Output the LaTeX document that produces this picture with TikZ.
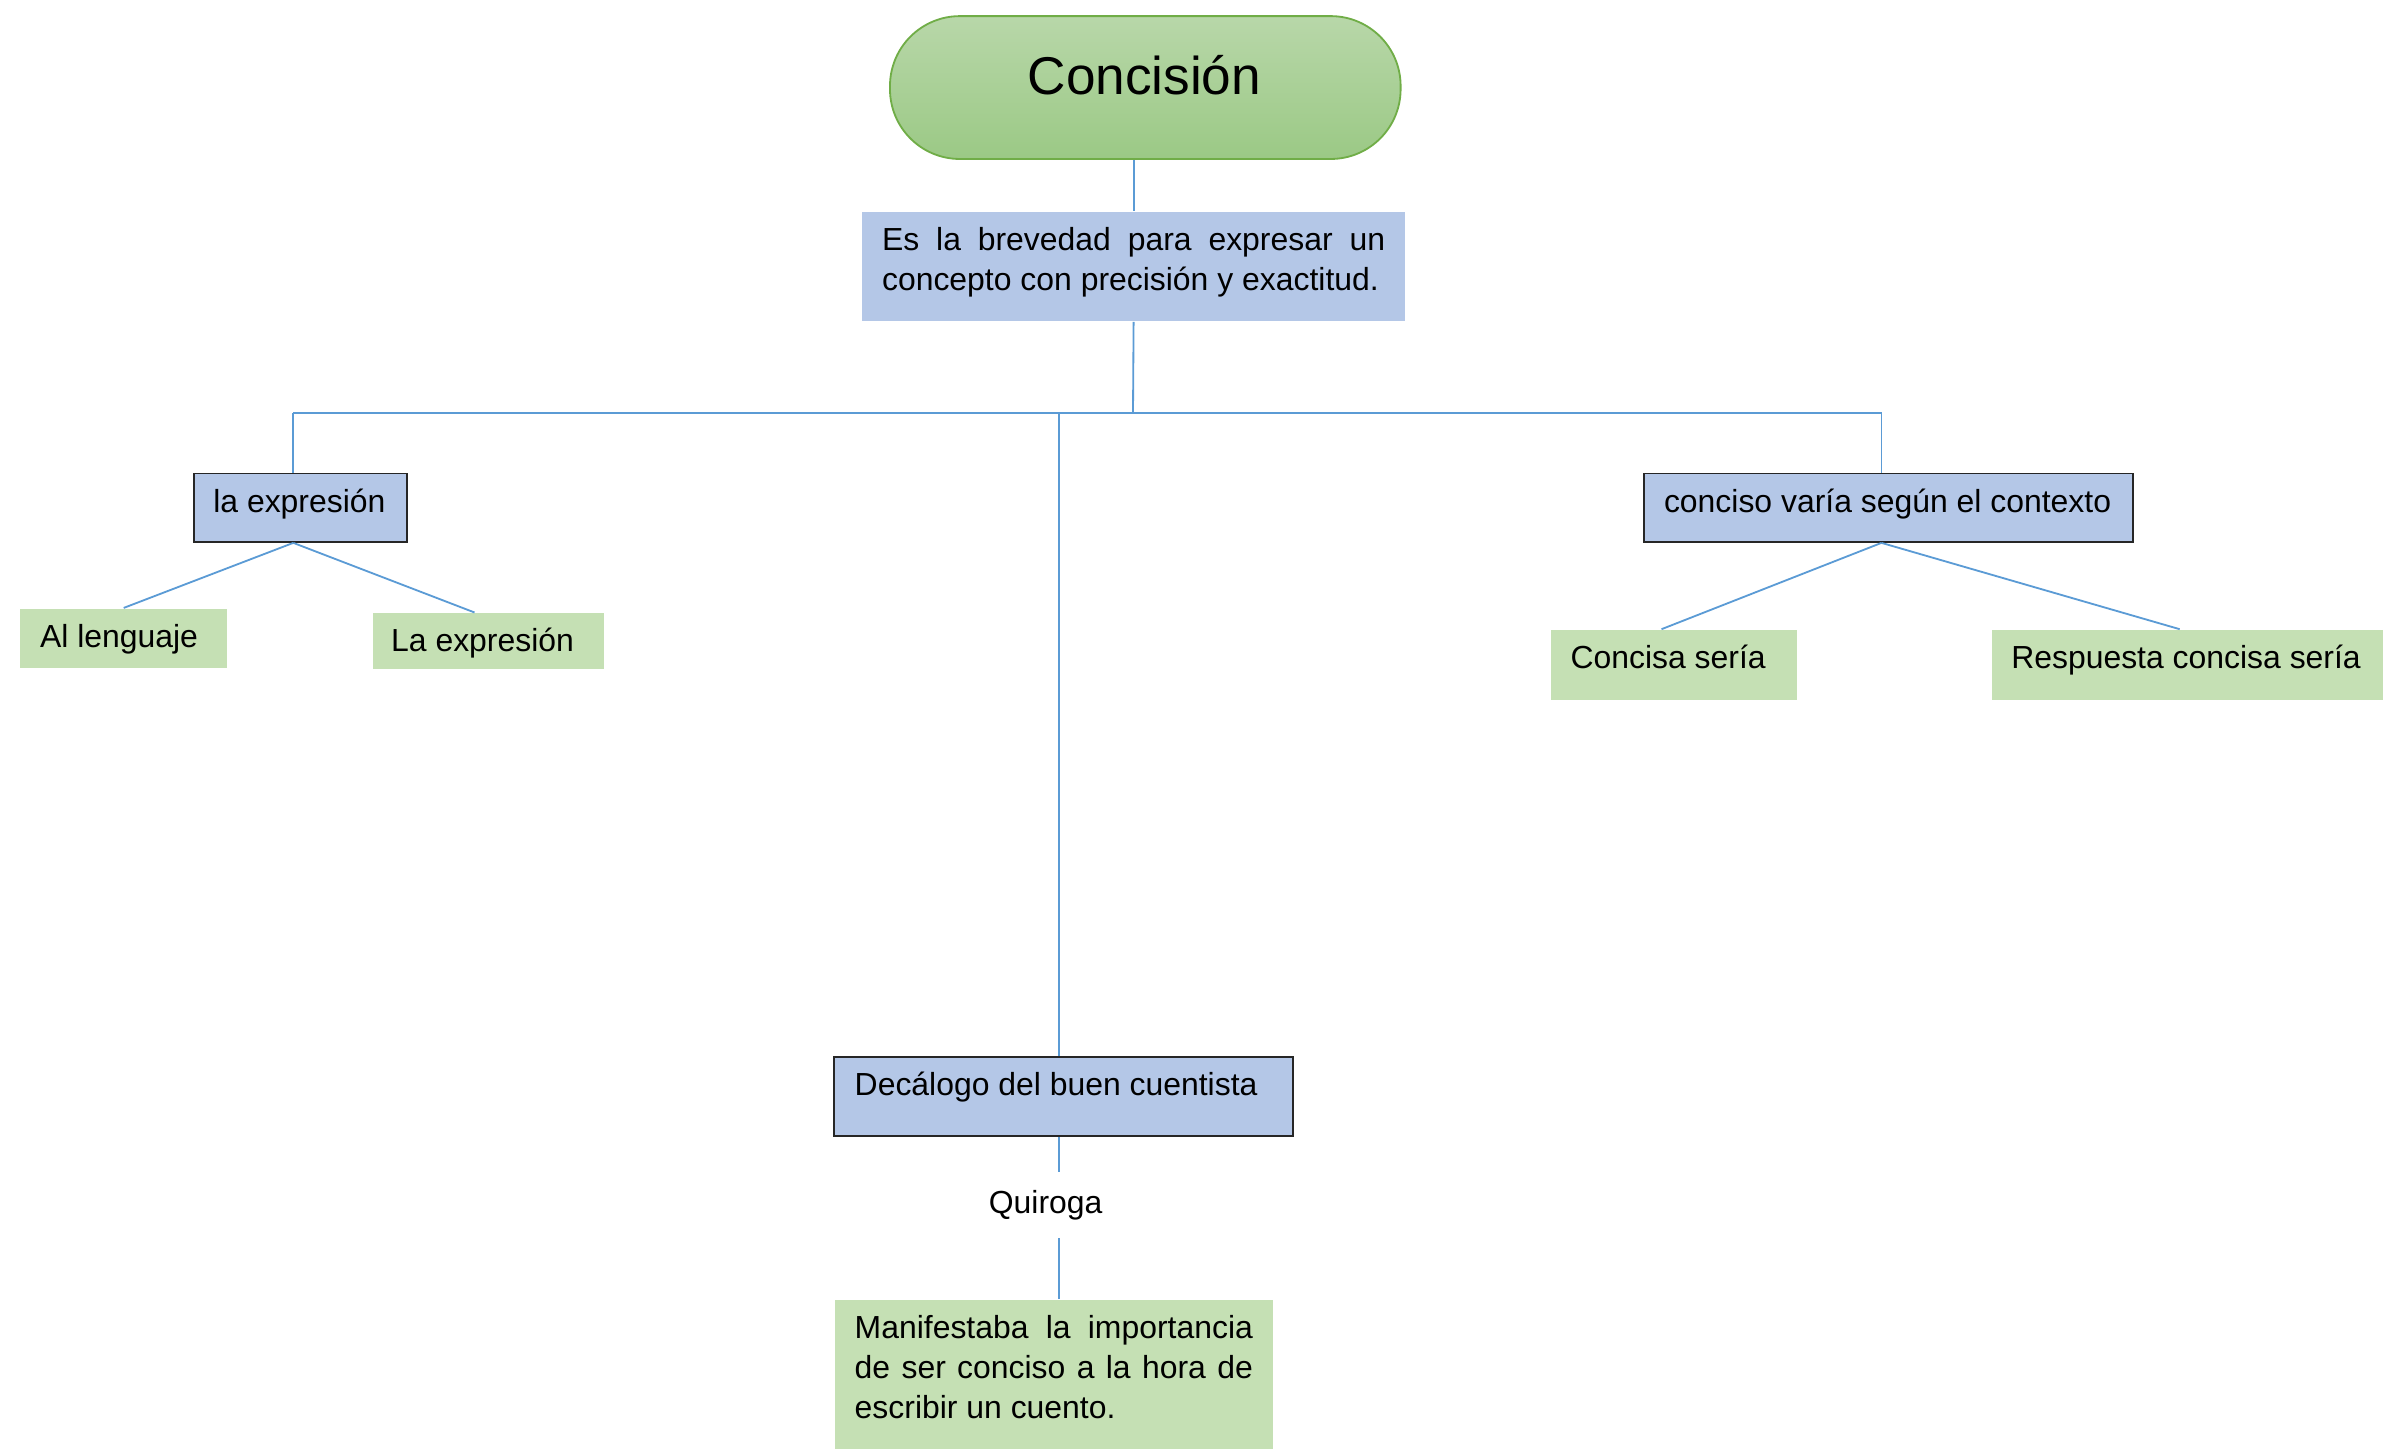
\documentclass[tikz,border=0pt]{standalone}
\usepackage{fontspec}
\setmainfont{Liberation Sans}
\usetikzlibrary{calc}
\definecolor{connc}{HTML}{5B9BD5}
\definecolor{boxblue}{HTML}{B4C7E7}
\definecolor{boxgreen}{HTML}{C5E0B4}
\definecolor{pilltop}{HTML}{B8D7A9}
\definecolor{pillbot}{HTML}{9BC985}
\definecolor{pillborder}{HTML}{70AD47}
\tikzset{
  conn/.style={draw=connc, line width=0.6pt},
  bluebox/.style={draw=black!85, line width=0.6pt, fill=boxblue, inner sep=0pt, anchor=north west},
  plainblue/.style={fill=boxblue, inner sep=0pt, anchor=north west},
  greenbox/.style={fill=boxgreen, inner sep=0pt, anchor=north west},
  txt/.style={inner sep=0pt, font=\fontsize{10.5}{13.2}\selectfont},
}
\begin{document}
\begin{tikzpicture}[x=0.5pt,y=-0.5pt]
\useasboundingbox (0,0) rectangle (1568,954);
% boxes
\node[draw=pillborder, line width=0.6pt, top color=pilltop, bottom color=pillbot,
      rounded corners=23pt, minimum width=168pt, minimum height=47pt,
      inner sep=0pt, anchor=north west] (pill) at (585,10) {};
\node[plainblue, minimum width=178.5pt, minimum height=36pt] (b1) at (567,139) {};
\node[bluebox, minimum width=70pt, minimum height=22.5pt] (lex) at (127,311) {};
\node[greenbox, minimum width=68pt, minimum height=19.5pt] (al) at (13,400) {};
\node[greenbox, minimum width=76pt, minimum height=18.5pt] (la) at (245,403) {};
\node[bluebox, minimum width=161pt, minimum height=22.5pt] (cv) at (1081,311) {};
\node[greenbox, minimum width=81pt, minimum height=23pt] (cs) at (1020,414) {};
\node[greenbox, minimum width=129pt, minimum height=23pt] (rc) at (1310,414) {};
\node[bluebox, minimum width=151pt, minimum height=26pt] (dec) at (548,695) {};
\node[greenbox, minimum width=144pt, minimum height=49pt] (man) at (549,855) {};
% texts
\node[txt, anchor=base, font=\fontsize{17.5}{21}\selectfont] (tconc) at (753,62) {Concisión};
\node[txt, anchor=base west, text width=165.5pt, align=justify] (t1) at (580,165)
  {\tolerance=10000\hyphenpenalty=10000 Es la brevedad para expresar un concepto con precisión y exactitud.};
\node[txt, anchor=base] (tlex) at (197,337) {la expresión};
\node[txt, anchor=base west] (tal) at (26,426) {Al lenguaje};
\node[txt, anchor=base west] (tla) at (257,429) {La expresión};
\node[txt, anchor=base] (tcv) at (1242,337) {conciso varía según el contexto};
\node[txt, anchor=base west] (tcs) at (1033,440) {Concisa sería};
\node[txt, anchor=base west] (trc) at (1323,440) {Respuesta concisa sería};
\node[txt, anchor=base west] (tdec) at (562,721) {Decálogo del buen cuentista};
\node[txt, minimum height=21.5pt] (quiroga) at (688,793) {Quiroga};
\node[txt, anchor=base west, text width=131pt, align=justify] (tman) at (562,880.5)
  {\tolerance=10000\hyphenpenalty=10000 Manifestaba la importancia de ser conciso a la hora de escribir un cuento.};
% connectors
\coordinate (hl) at (193,272);
\coordinate (hr) at (1238,272);
\coordinate (hm) at (745.5,272);
\coordinate (trunk) at (697,272);
\draw[conn] (pill.south -| b1.north) -- (b1.north);
\draw[conn] (b1.south) -- (hm);
\draw[conn] (hl) -- (hr);
\draw[conn] (hl) -- (hl |- lex.north);
\draw[conn] (hr) -- (hr |- cv.north);
\draw[conn] (trunk) -- (trunk |- dec.north);
\coordinate (lexb) at (lex.south -| hl);
\draw[conn] (lexb) -- (al.north);
\draw[conn] (lexb) -- ($(la.north west)!0.44!(la.north east)$);
\coordinate (cvb) at (cv.south -| hr);
\draw[conn] (cvb) -- ($(cs.north west)!0.45!(cs.north east)$);
\draw[conn] (cvb) -- ($(rc.north west)!0.48!(rc.north east)$);
\draw[conn] (dec.south -| trunk) -- (quiroga.north -| trunk);
\draw[conn] (quiroga.south -| trunk) -- (man.north -| trunk);
\end{tikzpicture}
\end{document}
